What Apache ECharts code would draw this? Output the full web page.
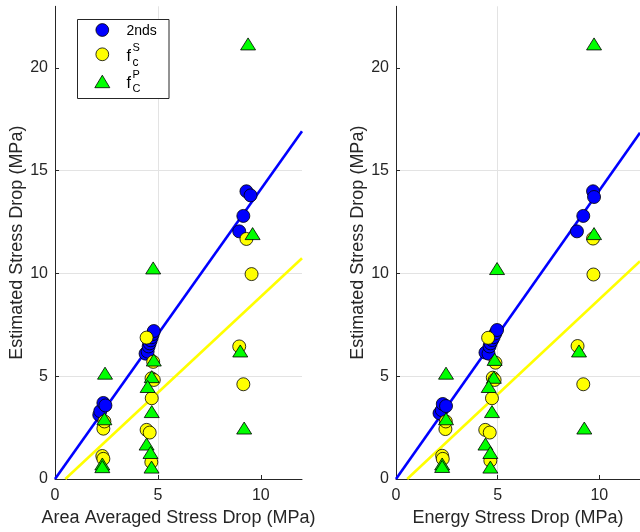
<!DOCTYPE html>
<html>
<head>
<meta charset="utf-8">
<script src="https://cdn.jsdelivr.net/npm/echarts@6/dist/echarts.min.js"></script>
<style>
  html, body { margin: 0; padding: 0; background: #fff; }
  #chart { width: 640px; height: 532px; }
</style>
</head>
<body>
<div id="chart"></div>
<script>
// Tick labels shared by both panels
const xTickValues = [0, 5, 10];
const yTickValues = [0, 5, 10, 15, 20];

// Left panel: estimates against area-averaged stress drop, [x, y] in MPa
const areaSeconds = [
  [2.15, 3.12], [2.2, 3.3], [2.35, 3.7], [2.45, 3.58],
  [4.4, 6.1], [4.5, 6.2], [4.55, 6.45], [4.6, 6.6], [4.65, 6.75], [4.7, 6.9], [4.75, 7.05], [4.8, 7.2],
  [8.95, 12.05], [9.15, 12.8], [9.3, 14.0], [9.5, 13.8]
];
const areaFcS = [
  [2.3, 1.12], [2.35, 0.98], [2.35, 2.45], [2.4, 2.8],
  [4.45, 6.88], [4.77, 5.7], [4.69, 4.9], [4.8, 4.82], [4.7, 3.93], [4.45, 2.39], [4.6, 2.26], [4.68, 0.82],
  [8.95, 6.45], [9.15, 4.61], [9.3, 11.68], [9.55, 9.97]
];
const areaFcP = [
  [2.43, 5.15], [2.4, 2.93], [2.3, 0.73], [2.3, 0.6],
  [4.77, 10.27], [4.8, 5.79], [4.7, 4.98], [4.5, 4.5], [4.7, 3.28], [4.45, 1.7], [4.64, 1.29], [4.69, 0.58],
  [9.0, 6.23], [9.19, 2.48], [9.6, 11.94], [9.38, 21.17]
];
const areaFitSeconds = [[0, 0], [12, 16.92]];
const areaFitFcS = [[0.5, 0], [12, 10.74]];

// Right panel: estimates against energy stress drop, [x, y] in MPa
const energySeconds = [
  [2.14, 3.2], [2.25, 3.35], [2.3, 3.65], [2.46, 3.55],
  [4.4, 6.15], [4.55, 6.1], [4.6, 6.45], [4.65, 6.6], [4.73, 6.76], [4.8, 6.9], [4.89, 7.09], [4.97, 7.25],
  [8.9, 12.05], [9.21, 12.8], [9.69, 14.0], [9.74, 13.72]
];
const energyFcS = [
  [2.27, 1.13], [2.3, 0.98], [2.43, 2.43], [2.45, 2.8],
  [4.53, 6.87], [4.89, 5.66], [4.76, 4.93], [4.85, 4.82], [4.72, 3.93], [4.39, 2.39], [4.61, 2.26], [4.64, 0.89],
  [8.93, 6.47], [9.21, 4.61], [9.69, 11.7], [9.71, 9.95]
];
const energyFcP = [
  [2.46, 5.15], [2.46, 2.93], [2.27, 0.73], [2.27, 0.61],
  [4.97, 10.24], [4.85, 5.82], [4.81, 4.95], [4.56, 4.5], [4.72, 3.28], [4.4, 1.7], [4.64, 1.29], [4.64, 0.58],
  [9.0, 6.23], [9.26, 2.48], [9.74, 11.94], [9.74, 21.17]
];
const energyFitSeconds = [[0, 0], [12, 16.85]];
const energyFitFcS = [[0.55, 0], [12, 10.6]];

const FONT = '"Liberation Sans", Arial, Helvetica, sans-serif';
const AXIS_COLOR = '#262626';
const BLUE = '#0000ff';
const YELLOW = '#ffff00';
const GREEN = '#00ff00';

function makeXAxis(gridIndex, name) {
  return {
    type: 'value', gridIndex: gridIndex, min: 0, max: 12, interval: 5,
    name: name, nameLocation: 'middle', nameGap: 30,
    nameTextStyle: { fontFamily: FONT, fontSize: 18, color: AXIS_COLOR },
    axisLine: { show: true, onZero: false, lineStyle: { color: AXIS_COLOR, width: 1 } },
    axisTick: { show: true, inside: true, length: 4, customValues: xTickValues, lineStyle: { color: AXIS_COLOR } },
    axisLabel: { customValues: xTickValues, margin: 9, fontFamily: FONT, fontSize: 16, color: AXIS_COLOR },
    splitLine: { show: true, showMinLine: false, showMaxLine: false, lineStyle: { color: '#e3e3e3', width: 1 } }
  };
}
function makeYAxis(gridIndex) {
  return {
    type: 'value', gridIndex: gridIndex, min: 0, max: 23, interval: 5,
    name: 'Estimated Stress Drop (MPa)', nameLocation: 'middle', nameGap: 29,
    nameTextStyle: { fontFamily: FONT, fontSize: 18, color: AXIS_COLOR },
    axisLine: { show: true, onZero: false, lineStyle: { color: AXIS_COLOR, width: 1 } },
    axisTick: { show: true, inside: true, length: 4, customValues: yTickValues, lineStyle: { color: AXIS_COLOR } },
    axisLabel: { customValues: yTickValues, margin: 7, fontFamily: FONT, fontSize: 16, color: AXIS_COLOR },
    splitLine: { show: true, showMinLine: false, showMaxLine: false, lineStyle: { color: '#e3e3e3', width: 1 } }
  };
}
function fitLine(idx, data, color) {
  return {
    type: 'line', xAxisIndex: idx, yAxisIndex: idx, data: data,
    symbol: 'none', silent: true, z: 2,
    lineStyle: { color: color, width: 2.6 }
  };
}
function points(idx, name, data, symbol, size, color, z) {
  return {
    type: 'scatter', name: name, xAxisIndex: idx, yAxisIndex: idx, data: data,
    symbol: symbol, symbolSize: size, z: z,
    itemStyle: { color: color, borderColor: '#000', borderWidth: 0.8, opacity: 1 }
  };
}

// Legend drawn in the left panel
const legendX = 77.5, legendY = 19.5;
const rowY = [30, 54.3, 81.7];
const markerX = 102.3;
const textX = 126.5;
function txt(text, x, y, size) {
  return {
    type: 'text', x: x, y: y, z: 100,
    style: { text: text, fontFamily: FONT, fontSize: size, fill: '#000',
             align: 'left', verticalAlign: 'middle', textAlign: 'left', textVerticalAlign: 'middle' }
  };
}
const legendGraphic = [
  { type: 'rect', z: 99, shape: { x: legendX, y: legendY, width: 91.5, height: 79 },
    style: { fill: '#fff', stroke: AXIS_COLOR, lineWidth: 1 } },
  { type: 'circle', z: 100, shape: { cx: markerX, cy: rowY[0], r: 6.4 },
    style: { fill: BLUE, stroke: '#000', lineWidth: 0.8 } },
  { type: 'circle', z: 100, shape: { cx: markerX, cy: rowY[1], r: 6.4 },
    style: { fill: YELLOW, stroke: '#000', lineWidth: 0.8 } },
  { type: 'polygon', z: 100,
    shape: { points: [[markerX, rowY[2] - 6.5], [markerX + 7.5, rowY[2] + 6], [markerX - 7.5, rowY[2] + 6]] },
    style: { fill: GREEN, stroke: '#000', lineWidth: 0.8 } },
  txt('2nds', textX, rowY[0] + 1, 14),
  txt('f', textX, rowY[1] + 2, 16),
  txt('S', textX + 6, rowY[1] - 6.5, 11),
  txt('c', textX + 6, rowY[1] + 8, 12),
  txt('f', textX, rowY[2] + 2, 16),
  txt('P', textX + 6, rowY[2] - 7, 11),
  txt('C', textX + 6, rowY[2] + 7.5, 11)
];

const chart = echarts.init(document.getElementById('chart'), null, { renderer: 'canvas' });
chart.setOption({
  backgroundColor: '#fff',
  animation: false,
  grid: [
    { left: 55, top: 6.3, width: 247, bottom: 52.7, containLabel: false },
    { left: 396, top: 6.3, width: 247, bottom: 52.7, containLabel: false }
  ],
  xAxis: [makeXAxis(0, 'Area Averaged Stress Drop (MPa)'), makeXAxis(1, 'Energy Stress Drop (MPa)')],
  yAxis: [makeYAxis(0), makeYAxis(1)],
  series: [
    fitLine(0, areaFitSeconds, BLUE),
    fitLine(0, areaFitFcS, YELLOW),
    points(0, '2nds', areaSeconds, 'circle', 13, BLUE, 3),
    points(0, 'fcS', areaFcS, 'circle', 13, YELLOW, 4),
    points(0, 'fcP', areaFcP, 'triangle', [15, 12], GREEN, 5),
    fitLine(1, energyFitSeconds, BLUE),
    fitLine(1, energyFitFcS, YELLOW),
    points(1, '2nds', energySeconds, 'circle', 13, BLUE, 3),
    points(1, 'fcS', energyFcS, 'circle', 13, YELLOW, 4),
    points(1, 'fcP', energyFcP, 'triangle', [15, 12], GREEN, 5)
  ],
  graphic: legendGraphic
});
</script>
</body>
</html>
